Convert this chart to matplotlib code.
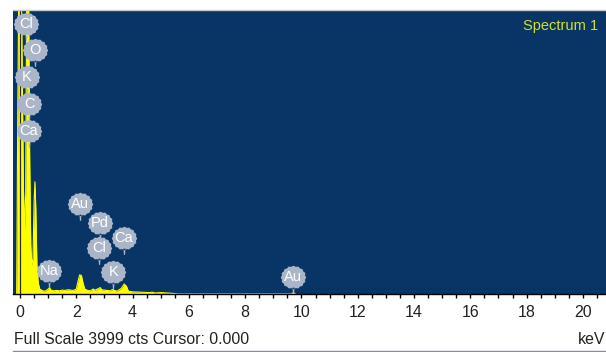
import numpy as np
import matplotlib
matplotlib.use("Agg")
import matplotlib.pyplot as plt
from matplotlib.path import Path
from matplotlib.markers import MarkerStyle
from matplotlib.lines import Line2D

plt.rcParams['font.family'] = ['Liberation Sans', 'DejaVu Sans']

# EDS spectrum (energy in keV, counts)
energy_kev = [-0.12, -0.08, -0.04, 0.00, 0.04, 0.08, 0.12, 0.16, 0.20, 0.24, 0.30,
              0.34, 0.38, 0.42, 0.46, 0.50, 0.53, 0.56, 0.60, 0.65, 0.70, 0.80,
              0.90, 1.00, 1.05, 1.10, 1.20, 1.30, 1.40, 1.50, 1.60, 1.70, 1.80,
              1.90, 2.00, 2.06, 2.12, 2.18, 2.24, 2.30, 2.40, 2.50, 2.60, 2.65,
              2.70, 2.80, 2.85, 2.90, 3.00, 3.10, 3.20, 3.30, 3.35, 3.45, 3.60,
              3.70, 3.78, 3.85, 4.00, 4.30, 4.60, 4.70, 4.80, 5.00, 5.20, 5.40,
              5.60, 9.64, 9.71, 9.78]
counts = [0, 2600, 4500, 4500, 4500, 3000, 1500, 900, 1400, 4500, 4500,
          2000, 700, 400, 500, 1300, 1580, 1200, 400, 150, 70, 45,
          40, 70, 90, 55, 45, 50, 45, 55, 50, 60, 55,
          50, 70, 180, 270, 260, 150, 70, 50, 45, 70, 55,
          60, 80, 90, 60, 55, 50, 45, 65, 50, 40, 80,
          140, 110, 40, 30, 25, 20, 25, 15, 20, 15, 10,
          0, 0, 20, 0]

# Element markers: symbol, energy (keV), marker height (counts)
marker_symbols = ["Cl", "O", "K", "C", "Ca", "Au", "Pd", "Ca", "Cl", "K", "Na", "Au"]
marker_energy = [0.21, 0.53, 0.25, 0.32, 0.32, 2.12, 2.84, 3.69, 2.81, 3.31, 1.04, 9.71]
marker_height = [3802, 3436, 3056, 2675, 2295, 1267, 1000, 789, 648, 310, 324, 239]

x_ticks = [0, 2, 4, 6, 8, 10, 12, 14, 16, 18, 20]
full_scale = 3999

W, H, DPI = 606, 352, 100
fig = plt.figure(figsize=(W / DPI, H / DPI), dpi=DPI)
fig.patch.set_facecolor("white")

ax_l, ax_r, ax_t, ax_b = 13, 606, 10, 294
ax = fig.add_axes([ax_l / W, 1 - ax_b / H, (ax_r - ax_l) / W, (ax_b - ax_t) / H])
ax.set_facecolor("#083466")
ax.set_xlim(-0.25, 20.82)
ax.set_ylim(0, full_scale)

ax.fill_between(energy_kev, counts, 0, color="#ffff00", linewidth=0)
ax.plot(energy_kev, counts, color="#ffff00", lw=0.8)
ax.axvline(0, color="#2a2a2a", lw=0.9)

# balloon-shaped marker: scalloped circle with a short stem underneath
theta = np.linspace(0, 2 * np.pi, 160, endpoint=False)
rad = 1 + 0.035 * np.cos(16 * theta)
circ = np.column_stack([1.08 * rad * np.cos(theta), rad * np.sin(theta)])
stem = np.array([[-0.09, -0.9], [0.09, -0.9], [0.05, -1.45], [-0.05, -1.45]])
verts = np.vstack([circ, circ[:1], stem, stem[:1]])
codes = ([Path.MOVETO] + [Path.LINETO] * (len(circ) - 1) + [Path.CLOSEPOLY]
         + [Path.MOVETO] + [Path.LINETO] * 3 + [Path.CLOSEPOLY])
balloon = MarkerStyle(Path(verts, codes))
ms = 11.3 * 72 / DPI * 2.9

for sym, e, h in zip(marker_symbols, marker_energy, marker_height):
    ax.plot([e], [h], marker=balloon, markersize=ms, color="#aab5c8",
            markeredgewidth=0, linestyle="none", zorder=5)
    ax.text(e, h, sym, ha="center", va="center", color="white",
            fontsize=10.5, zorder=6)

ax.text(0.987, 0.968, "Spectrum 1", transform=ax.transAxes, ha="right", va="top",
        color="#d6e21c", fontsize=10.5)

for s in ["top", "left", "right"]:
    ax.spines[s].set_visible(False)
ax.spines["bottom"].set_color("black")
ax.spines["bottom"].set_linewidth(1.0)
ax.set_yticks([])
ax.set_xticks(x_ticks)
ax.set_xticklabels([str(t) for t in x_ticks])
ax.set_xticks(np.arange(0, 21, 0.5), minor=True)
ax.tick_params(axis="x", which="both", direction="out", length=3.2, width=1.0,
               color="black", labelsize=11.5, labelcolor="#222222", pad=5)

fig.text(14 / W, 1 - 340 / H, "Full Scale 3999 cts Cursor: 0.000", ha="left",
         va="center", fontsize=11.4, color="#222222")
fig.text(605 / W, 1 - 340 / H, "keV", ha="right", va="center", fontsize=11.4,
         color="#222222")

# panel border lines
fig.add_artist(Line2D([ax_l / W, 1], [1 - 9.5 / H] * 2, color="#c8c8c8", lw=1.0))
fig.add_artist(Line2D([ax_l / W, 1], [1 - 351 / H] * 2, color="#7d8fb0", lw=1.0))

fig.savefig("out.png", dpi=DPI)
